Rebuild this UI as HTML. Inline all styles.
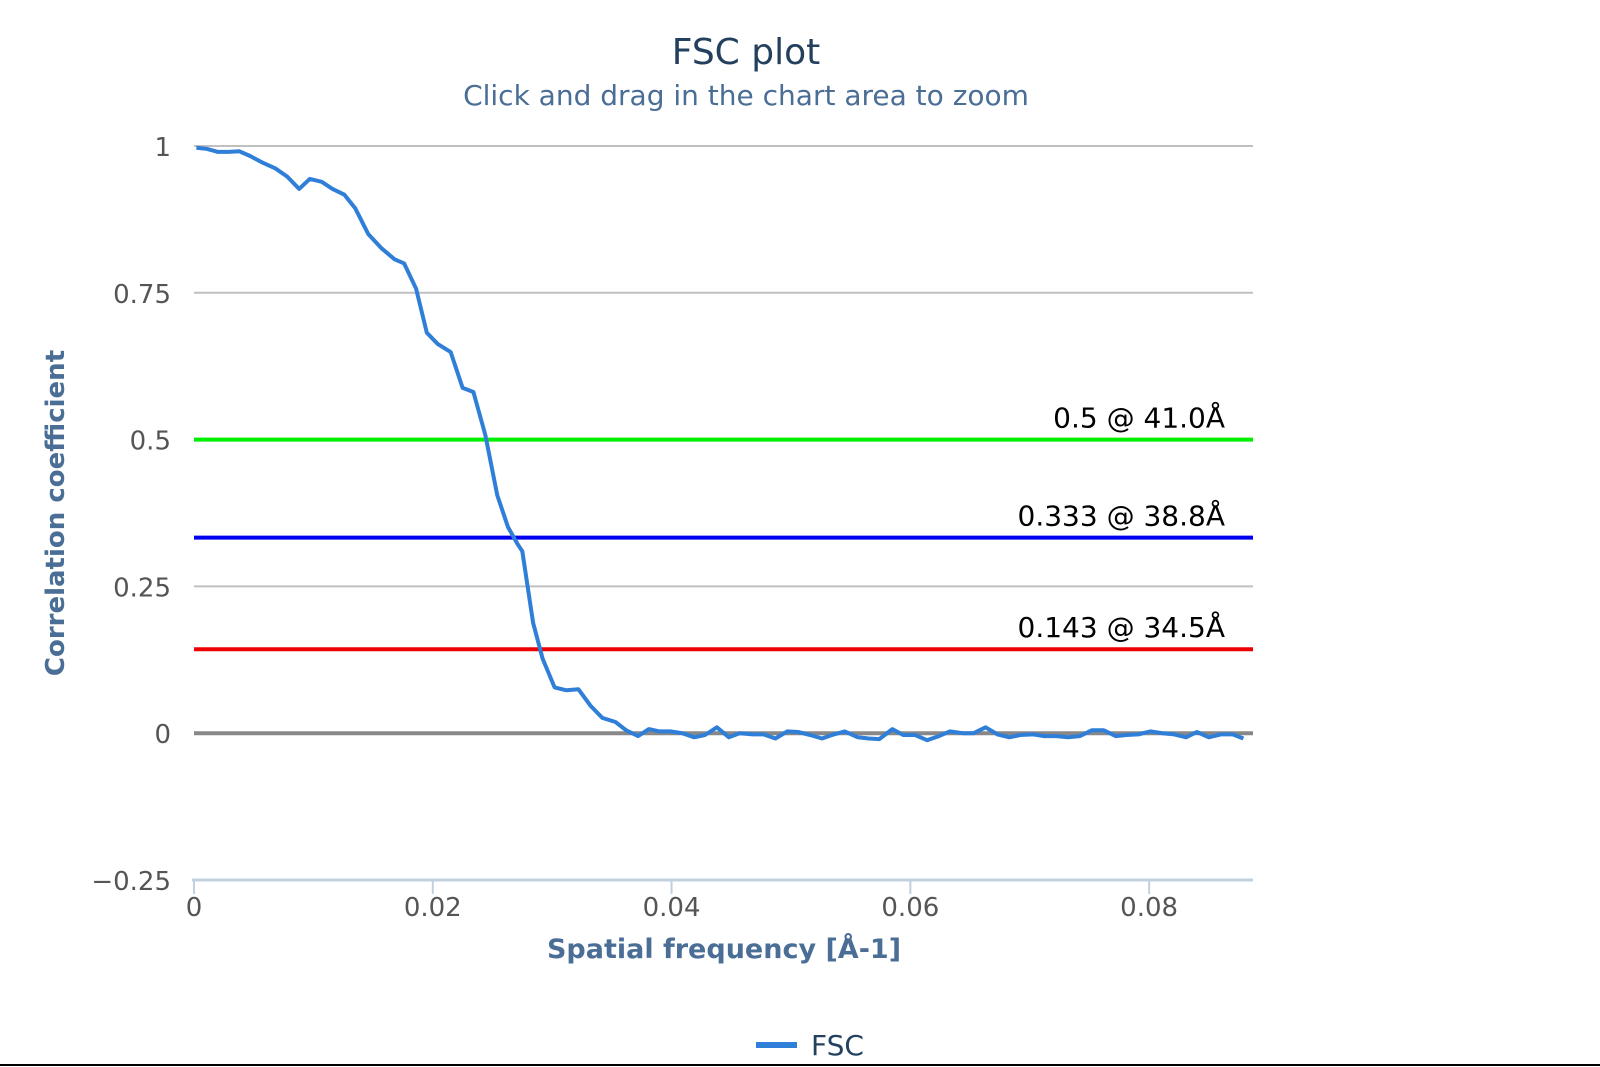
<!DOCTYPE html>
<html><head><meta charset="utf-8"><style>
html,body{margin:0;padding:0;background:#fff;width:1600px;height:1067px;overflow:hidden;font-family:"DejaVu Sans","Liberation Sans",sans-serif;}
</style></head><body>
<svg id="chart" width="1600" height="1067" xmlns="http://www.w3.org/2000/svg" style="display:block" font-family="DejaVu Sans, Liberation Sans, sans-serif">
<text x="746" y="64" text-anchor="middle" font-size="36" fill="#24405f">FSC plot</text>
<text x="746" y="105" text-anchor="middle" font-size="28" fill="#4a6e96">Click and drag in the chart area to zoom</text>
<g id="grid"></g>
<g id="thresholds"></g>
<g id="series"></g>
<g id="axes"></g>
<text transform="translate(64,513) rotate(-90)" text-anchor="middle" font-size="26" font-weight="bold" fill="#4a6e96">Correlation coefficient</text>
<text x="724" y="958" text-anchor="middle" font-size="27" font-weight="bold" fill="#4a6e96">Spatial frequency [Å-1]</text>
<g>
<line x1="756" y1="1045" x2="797" y2="1045" stroke="#2f7ed8" stroke-width="6"/>
<text x="811" y="1055" font-size="28" fill="#24405f">FSC</text>
</g>
<line x1="0" y1="1065" x2="1600" y2="1065" stroke="#000" stroke-width="2"/>
</svg>
<script>
const freq=[0.0002,0.0011,0.0020,0.0029,0.0038,0.0047,0.0057,0.0068,0.0078,0.0088,0.0097,0.0107,0.0116,0.0126,0.0135,0.0146,0.0157,0.0168,0.0176,0.0186,0.0195,0.0204,0.0215,0.0225,0.0234,0.0244,0.0254,0.0263,0.0271,0.0275,0.0284,0.0292,0.0302,0.0312,0.0322,0.0332,0.0342,0.0353,0.0362,0.0372,0.0381,0.0390,0.0399,0.0409,0.0419,0.0428,0.0438,0.0448,0.0457,0.0468,0.0477,0.0487,0.0497,0.0506,0.0516,0.0526,0.0536,0.0545,0.0556,0.0565,0.0574,0.0585,0.0594,0.0604,0.0614,0.0624,0.0633,0.0644,0.0653,0.0663,0.0673,0.0683,0.0692,0.0703,0.0712,0.0722,0.0732,0.0742,0.0752,0.0762,0.0772,0.0781,0.0791,0.0801,0.0811,0.0821,0.0831,0.0840,0.0850,0.0860,0.0870,0.0879];
const fsc=[0.997,0.995,0.990,0.990,0.991,0.983,0.972,0.962,0.948,0.927,0.944,0.939,0.927,0.917,0.894,0.850,0.826,0.807,0.800,0.757,0.682,0.663,0.649,0.588,0.581,0.508,0.405,0.351,0.322,0.310,0.188,0.127,0.078,0.073,0.075,0.047,0.026,0.019,0.005,-0.005,0.007,0.003,0.003,0,-0.007,-0.003,0.010,-0.007,0,-0.002,-0.002,-0.009,0.003,0.002,-0.003,-0.009,-0.002,0.003,-0.007,-0.009,-0.010,0.007,-0.003,-0.003,-0.012,-0.005,0.003,0,0,0.010,-0.002,-0.007,-0.003,-0.002,-0.005,-0.005,-0.007,-0.005,0.005,0.005,-0.005,-0.003,-0.002,0.003,0,-0.002,-0.007,0.002,-0.007,-0.002,-0.002,-0.009];
const yTicks=[1,0.75,0.5,0.25,0,-0.25];
const yTickLabels=["1","0.75","0.5","0.25","0","\u22120.25"];
const xTicks=[0,0.02,0.04,0.06,0.08];
const xTickLabels=["0","0.02","0.04","0.06","0.08"];
const thrValues=[0.5,0.333,0.143];
const thrLabels=["0.5 @ 41.0Å","0.333 @ 38.8Å","0.143 @ 34.5Å"];
const thrColors=["#00ee00","#0000ee","#ee0000"];

const L=194,R=1253,T=146,B=880,XMAX=0.0887,YMIN=-0.25,YMAX=1;
const xs=v=>L+(v/XMAX)*(R-L);
const ys=v=>B-(v-YMIN)/(YMAX-YMIN)*(B-T);
const NS="http://www.w3.org/2000/svg";
function mk(tag,attrs,parent){const e=document.createElementNS(NS,tag);for(const k in attrs)e.setAttribute(k,attrs[k]);parent.appendChild(e);return e;}
const grid=document.getElementById('grid'),axes=document.getElementById('axes'),thr=document.getElementById('thresholds'),ser=document.getElementById('series');
yTicks.forEach((t,i)=>{
  if(t!==YMIN){const g=mk('line',{x1:L,x2:R,y1:ys(t),y2:ys(t),stroke:t===0?'#888':'#c0c0c0','stroke-width':t===0?4:2},grid);
  
  }
  const tx=mk('text',{x:171,y:ys(t)+10,'text-anchor':'end','font-size':26,fill:'#555'},axes);
  tx.textContent=yTickLabels[i];
  
  
});
const ax=mk('line',{x1:L-2,x2:R,y1:B,y2:B,stroke:'#c0d0e0','stroke-width':3},axes);


xTicks.forEach((t,i)=>{
  const tk=mk('line',{x1:xs(t),x2:xs(t),y1:B,y2:B+14,stroke:'#c0d0e0','stroke-width':2},axes);
  
  
  const tx=mk('text',{x:xs(t),y:B+36,'text-anchor':'middle','font-size':26,fill:'#555'},axes);
  tx.textContent=xTickLabels[i];
  
  
});
thrValues.forEach((v,i)=>{
  const l=mk('line',{x1:L,x2:R,y1:ys(v),y2:ys(v),stroke:thrColors[i],'stroke-width':4},thr);
  
  
  const tx=mk('text',{x:1225,y:ys(v)-12,'text-anchor':'end','font-size':28,fill:'#000'},thr);
  tx.textContent=thrLabels[i];
  
  
});
const pts=freq.map((f,i)=>xs(f).toFixed(1)+','+ys(fsc[i]).toFixed(1)).join(' ');
const pl=mk('polyline',{points:pts,fill:'none',stroke:'#2f7ed8','stroke-width':4,'stroke-linejoin':'round'},ser);


</script>
</body></html>
